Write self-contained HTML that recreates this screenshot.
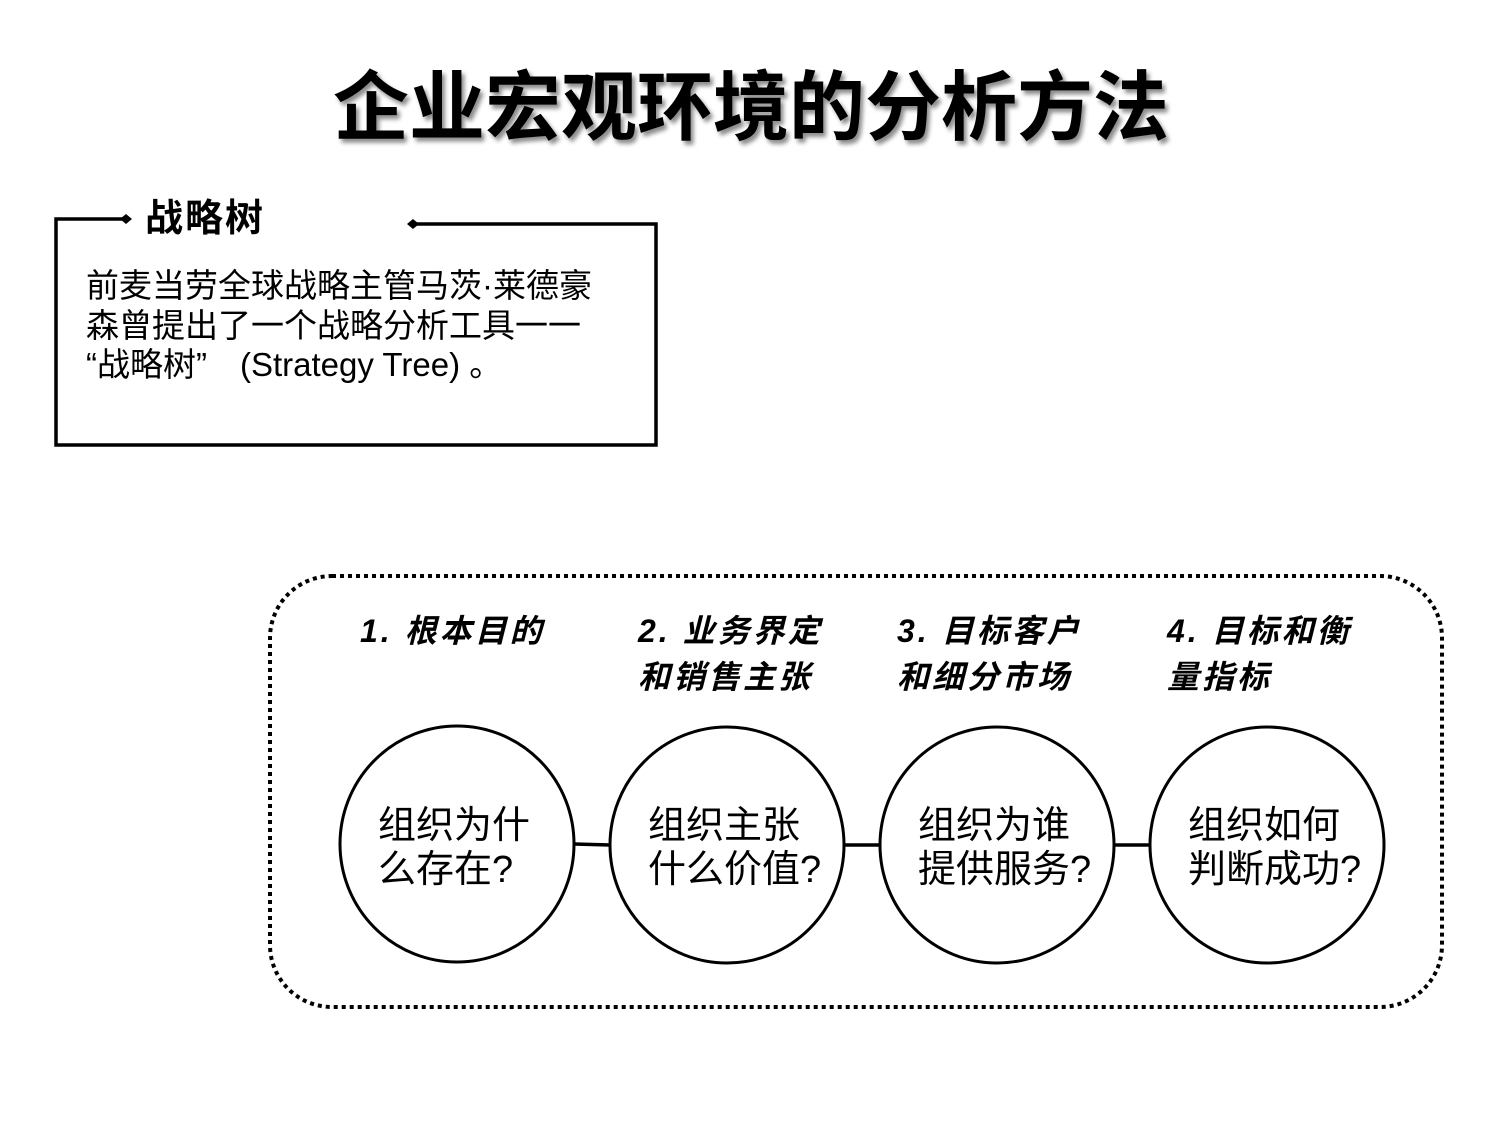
<!DOCTYPE html>
<html><head><meta charset="utf-8"><style>
body{margin:0;background:#fff}
svg{display:block}
text{font-family:"Liberation Sans","Noto Sans CJK SC",sans-serif;fill:#000}
</style></head><body>
<svg width="1500" height="1125" viewBox="0 0 1500 1125">
<defs><filter id="sh"><feDropShadow dx="3" dy="4" stdDeviation="2" flood-color="#000" flood-opacity="0.45"/></filter></defs>
<text x="751" y="134" font-size="76" font-weight="bold" text-anchor="middle" filter="url(#sh)">企业宏观环境的分析方法</text>
<polyline points="126,219 56,219 56,445 656,445 656,224 413,224" fill="none" stroke="#000" stroke-width="3.5"/>
<polygon points="120,219 126,214 132,219 126,224" fill="#000"/>
<polygon points="407,224 413,219 419,224 413,229" fill="#000"/>
<text x="145" y="231" font-size="38" font-weight="bold" letter-spacing="2">战略树</text>
<text x="86" y="297" font-size="33">前麦当劳全球战略主管马茨·莱德豪</text>
<text x="86" y="337" font-size="33">森曾提出了一个战略分析工具一一</text>
<text x="86" y="376" font-size="33">“战略树”　(Strategy Tree)  。</text>
<rect x="270" y="576" width="1172" height="431" rx="62" fill="none" stroke="#000" stroke-width="4" stroke-dasharray="4 4"/>
<g font-size="32" font-style="italic" font-weight="bold" letter-spacing="3">
<text x="360" y="642">1. 根本目的</text>
<text x="638" y="642">2. 业务界定</text>
<text x="638" y="688">和销售主张</text>
<text x="897" y="642">3. 目标客户</text>
<text x="897" y="688">和细分市场</text>
<text x="1167" y="642">4. 目标和衡</text>
<text x="1167" y="688">量指标</text>
</g>
<g stroke="#000" stroke-width="3.5">
<line x1="574" y1="844" x2="610" y2="845"/>
<line x1="844" y1="845" x2="880" y2="845"/>
<line x1="1114" y1="845" x2="1150" y2="845"/>
</g>
<g fill="none" stroke="#000" stroke-width="3">
<ellipse cx="457" cy="844" rx="117" ry="118"/>
<ellipse cx="727" cy="845" rx="117" ry="118"/>
<ellipse cx="997" cy="845" rx="117" ry="118"/>
<ellipse cx="1267" cy="845" rx="117" ry="118"/>
</g>
<g font-size="38">
<text x="378" y="838">组织为什</text><text x="378" y="882">么存在?</text>
<text x="648" y="838">组织主张</text><text x="648" y="882">什么价值?</text>
<text x="918" y="838">组织为谁</text><text x="918" y="882">提供服务?</text>
<text x="1188" y="838">组织如何</text><text x="1188" y="882">判断成功?</text>
</g>
</svg>
</body></html>
